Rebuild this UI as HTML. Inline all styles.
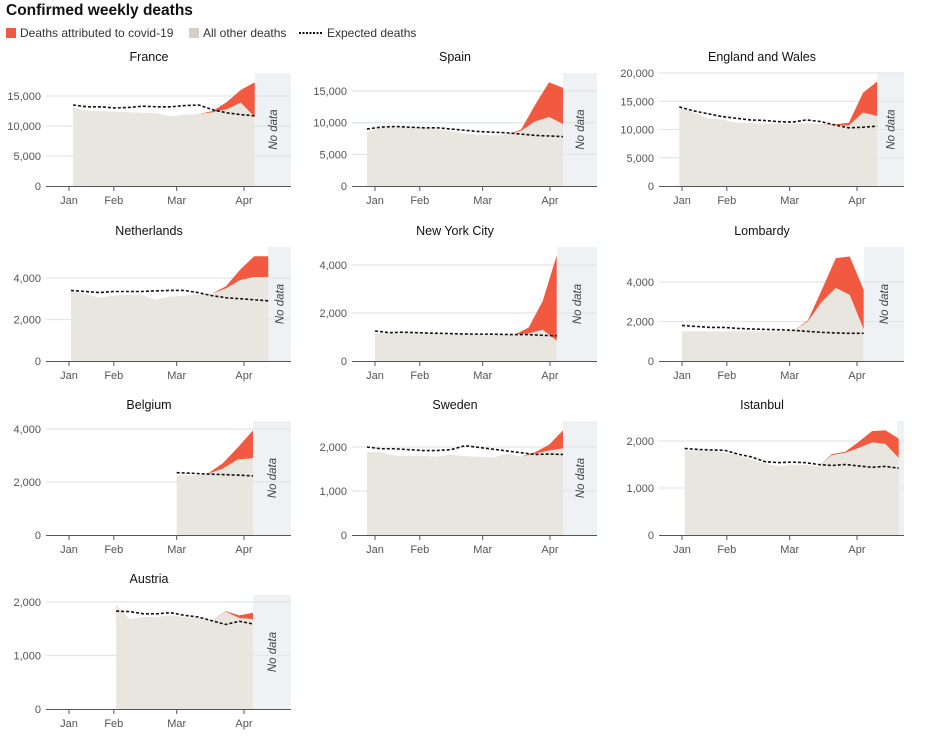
<!DOCTYPE html>
<html><head><meta charset="utf-8"><style>
body{margin:0;background:#fff;font-family:"Liberation Sans",sans-serif}
svg{display:block}
</style></head><body>
<svg id="c" width="931" height="752" xmlns="http://www.w3.org/2000/svg">
<text x="6" y="15" font-size="15.5" font-weight="bold" fill="#111">Confirmed weekly deaths</text>
<g>
<rect x="6" y="28" width="10" height="10" fill="#f15a40"/>
<text x="20" y="37" font-size="12" fill="#333">Deaths attributed to covid-19</text>
<rect x="189" y="28" width="10" height="10" fill="#d4d0c8"/>
<text x="203" y="37" font-size="12" fill="#333">All other deaths</text>
<line x1="299" y1="33" x2="323" y2="33" stroke="#111" stroke-width="2" stroke-dasharray="2,1.5"/>
<text x="327" y="37" font-size="12" fill="#333">Expected deaths</text>
</g>
</svg>
<script>
const monthLabels=["Jan","Feb","Mar","Apr"];
const monthWeeks=[0,3.33,8,13];
const franceOther=[13000,12600,12500,12400,12300,12200,12100,11600,11900,12000,12300,12800,13900,11500];
const franceCovid=[0,0,0,0,0,0,0,0,0,0,200,1200,2100,5800];
const franceExpected=[13500,13200,13200,13000,13100,13300,13200,13200,13400,13500,12700,12200,11900,11700];
const spainOther=[8500,9200,9300,9300,9200,9000,8600,8300,8100,8000,8100,8700,10200,10900,9800];
const spainCovid=[0,0,0,0,0,0,0,0,0,0,0,200,2600,5500,5700];
const spainExpected=[9000,9300,9400,9300,9200,9200,9000,8800,8600,8500,8400,8200,8000,7900,7800];
const ewOther=[14000,13000,12000,11800,11200,11100,11000,11000,11000,11100,11000,10800,10700,13000,12400];
const ewCovid=[0,0,0,0,0,0,0,0,0,0,0,100,500,3500,6100];
const ewExpected=[14000,13300,12800,12300,12000,11700,11600,11400,11300,11700,11400,10800,10300,10400,10600];
const nlOther=[3400,3250,3050,3150,3200,3200,2950,3100,3150,3200,3250,3500,3900,4050,4050];
const nlCovid=[0,0,0,0,0,0,0,0,0,0,0,100,500,1000,1000];
const nlExpected=[3400,3350,3300,3350,3350,3350,3380,3400,3400,3300,3150,3050,3000,2950,2900];
const nycOther=[1150,1150,1180,1150,1150,1120,1100,1100,1100,1100,1100,1150,1300,850];
const nycCovid=[0,0,0,0,0,0,0,0,0,0,0,250,1200,3550];
const nycExpected=[1250,1180,1200,1180,1160,1150,1130,1120,1120,1110,1100,1100,1070,1050];
const lomOther=[1500,1500,1500,1500,1500,1500,1500,1500,1550,2000,3000,3700,3350,1600];
const lomCovid=[0,0,0,0,0,0,0,0,0,50,600,1500,1950,2000];
const lomExpected=[1800,1750,1700,1700,1650,1620,1600,1580,1550,1500,1450,1420,1400,1400];
const belOther=[2250,2250,2300,2500,2850,2900];
const belCovid=[0,0,0,200,450,1050];
const belExpected=[2350,2330,2300,2280,2260,2230];
const sweOther=[1890,1880,1800,1800,1800,1780,1830,1790,1780,1760,1850,1780,1850,1920,1970];
const sweCovid=[0,0,0,0,0,0,0,0,0,0,0,0,30,130,410];
const sweExpected=[2000,1960,1960,1940,1920,1920,1940,2030,1990,1950,1910,1870,1830,1840,1830];
const istOther=[1800,1800,1800,1750,1700,1600,1520,1460,1500,1490,1460,1700,1750,1850,1970,1940,1640];
const istCovid=[0,0,0,0,0,0,0,0,0,0,0,20,20,130,240,290,410];
const istExpected=[1840,1820,1810,1800,1720,1660,1560,1540,1550,1540,1500,1480,1500,1470,1440,1460,1420];
const ausOther=[1950,1680,1720,1720,1750,1720,1700,1650,1820,1700,1680];
const ausCovid=[0,0,0,0,0,0,0,0,10,50,120];
const ausExpected=[1830,1820,1780,1780,1800,1750,1720,1650,1580,1640,1590];

const colJan=[69,375,682],rowBase=[186,361,535,709],rowTop=[73,247,421,595];
const WK=13.46;
const panels=[
 {name:"France",col:0,row:0,s:0.3,e:13.8,nd:255,pp:6.0,ticks:[0,5000,10000,15000],o:franceOther,c:franceCovid,x:franceExpected},
 {name:"Spain",col:1,row:0,s:-0.6,e:13.97,nd:563,pp:6.33,ticks:[0,5000,10000,15000],o:spainOther,c:spainCovid,x:spainExpected},
 {name:"England and Wales",col:2,row:0,s:-0.2,e:14.5,nd:877,pp:5.65,ticks:[0,5000,10000,15000,20000],o:ewOther,c:ewCovid,x:ewExpected},
 {name:"Netherlands",col:0,row:1,s:0.15,e:14.8,nd:268,pp:20.75,ticks:[0,2000,4000],o:nlOther,c:nlCovid,x:nlExpected},
 {name:"New York City",col:1,row:1,s:0,e:13.5,nd:557,pp:24,ticks:[0,2000,4000],o:nycOther,c:nycCovid,x:nycExpected},
 {name:"Lombardy",col:2,row:1,s:0,e:13.5,nd:864,pp:19.75,ticks:[0,2000,4000],o:lomOther,c:lomCovid,x:lomExpected},
 {name:"Belgium",col:0,row:2,s:8.0,e:13.67,nd:253,pp:26.5,ticks:[0,2000,4000],o:belOther,c:belCovid,x:belExpected},
 {name:"Sweden",col:1,row:2,s:-0.6,e:13.97,nd:563,pp:44,ticks:[0,1000,2000],o:sweOther,c:sweCovid,x:sweExpected},
 {name:"Istanbul",col:2,row:2,s:0.2,e:16.1,nd:897,pp:47,ticks:[0,1000,2000],o:istOther,c:istCovid,x:istExpected},
 {name:"Austria",col:0,row:3,s:3.5,e:13.67,nd:253,pp:53.5,ticks:[0,1000,2000],o:ausOther,c:ausCovid,x:ausExpected}
];
const NS="http://www.w3.org/2000/svg";
const svg=document.getElementById('c');
function mk(tag,attrs,parent){const el=document.createElementNS(NS,tag);for(const k in attrs)el.setAttribute(k,attrs[k]);(parent||svg).appendChild(el);return el;}
const fmt=v=>v.toLocaleString('en-US');
panels.forEach(p=>{
 const jan=colJan[p.col],base=rowBase[p.row],top=rowTop[p.row];
 const ax0=jan-23,ax1=jan+222;
 const xS=w=>jan+w*WK;
 const yS=v=>base-v/1000*p.pp;
 const g=mk('g',{});
 
 
 const t=mk('text',{x:jan+80,y:top-12,'text-anchor':'middle','font-size':12.5,fill:'#111'},g);t.textContent=p.name;
 
 
 const nd=mk('rect',{x:p.nd,y:top,width:ax1-p.nd,height:base-top,fill:'#eff2f5'},g);
 
 
 p.ticks.forEach(v=>{
  if(v>0){const gl=mk('line',{x1:ax0,x2:ax1,y1:yS(v),y2:yS(v),stroke:'#e1e6ec','stroke-width':1.3},g);
   
   }
  const tl=mk('text',{x:ax0-5,y:yS(v)+4,'text-anchor':'end','font-size':11,fill:'#555'},g);tl.textContent=fmt(v);
  
  
 });
 const n=p.o.length,step=(p.e-p.s)/(n-1);
 const xs=p.o.map((_,i)=>xS(p.s+i*step));
 let d='M'+xs[0]+','+base;
 p.o.forEach((v,i)=>d+=' L'+xs[i]+','+yS(v));
 d+=' L'+xs[n-1]+','+base+'Z';
 const ar=mk('path',{d:d,fill:'#e9e6df'},g);
 
 
 let dc='';
 p.o.forEach((v,i)=>dc+=(i?' L':'M')+xs[i]+','+yS(v+p.c[i]));
 for(let i=n-1;i>=0;i--)dc+=' L'+xs[i]+','+yS(p.o[i]);
 const cr=mk('path',{d:dc+'Z',fill:'#f15a40'},g);
 
 
 const pts=p.x.map((v,i)=>xs[i]+','+yS(v)).join(' ');
 const ex=mk('polyline',{points:pts,fill:'none',stroke:'#111','stroke-width':1.6,'stroke-dasharray':'3,2'},g);
 
 
 const axl=mk('line',{x1:ax0,x2:ax1,y1:base+0.5,y2:base+0.5,stroke:'#555','stroke-width':1},g);
 
 
 monthLabels.forEach((m,i)=>{
  const mx=xS(monthWeeks[i]);
  const tk=mk('line',{x1:mx,x2:mx,y1:base,y2:base+5,stroke:'#555'},g);
  
  
  const ml=mk('text',{x:mx,y:base+18,'text-anchor':'middle','font-size':11,fill:'#555'},g);ml.textContent=m;
  
  
 });
 if(ax1-p.nd>20){
  const cx=(p.nd+ax1)/2,cy=(top+base)/2;
  const nt=mk('text',{x:cx,y:cy+4,'text-anchor':'middle','font-size':11.5,'font-style':'italic',fill:'#444',transform:'rotate(-90 '+cx+' '+cy+')'},g);nt.textContent='No data';
  
  
 }
});
</script>
</body></html>
